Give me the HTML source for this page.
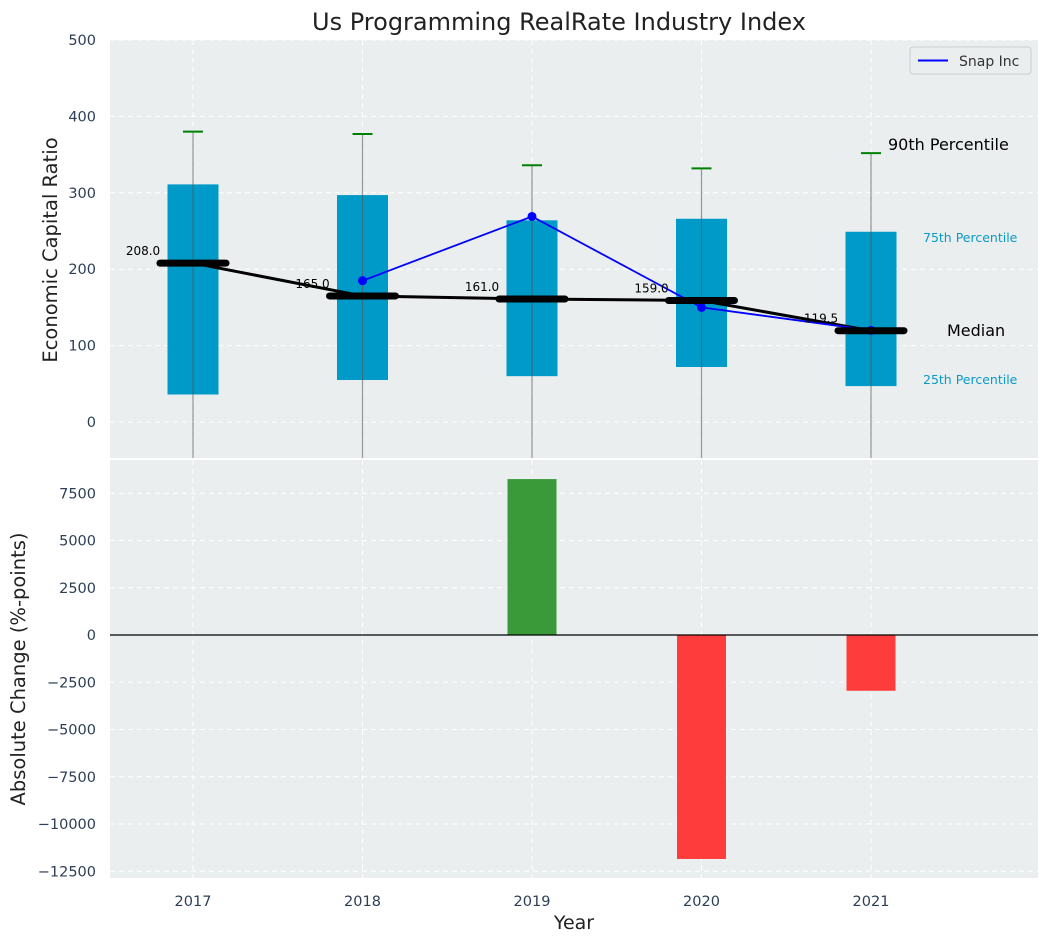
<!DOCTYPE html>
<html><head><meta charset="utf-8"><style>
html,body{margin:0;padding:0;background:#fff;}
svg{display:block;font-family:"DejaVu Sans","Liberation Sans",sans-serif;}
</style></head><body>
<svg id="chart" width="1048" height="942" viewBox="0 0 1048 942" xmlns="http://www.w3.org/2000/svg"></svg>
<script>
const years = ["2017","2018","2019","2020","2021"];
const p25 = [36, 55, 60, 72, 47];
const p75 = [311, 297, 264, 266, 249];
const p90 = [380, 377, 336, 332, 352];
const p10 = [-60, -60, -60, -60, -60];
const medians = [208.0, 165.0, 161.0, 159.0, 119.5];
const snapYears = [1, 2, 3, 4];
const snapValues = [185, 269, 150, 120];
const changes = [0, 0, 8250, -11850, -2950];
const topTicks = [0, 100, 200, 300, 400, 500];
const botTicks = [7500, 5000, 2500, 0, -2500, -5000, -7500, -10000, -12500];

const NS = "http://www.w3.org/2000/svg";
const svg = document.getElementById("chart");
function el(tag, attrs, parent) {
  const e = document.createElementNS(NS, tag);
  for (const k in attrs) e.setAttribute(k, attrs[k]);
  (parent || svg).appendChild(e);
  return e;
}
const L = 110, R = 1038;
const x = i => 193 + i * 169.5;
const yT = v => 422 - 0.764 * v;
const T0 = 40, T1 = 458;
const yB = v => 635 - 0.0189 * v;
const B0 = 460, B1 = 878;
const tickColor = "#2d3e55";
const TFS = 14.5;

let t = el("text", {x: 559, y: 30, "text-anchor": "middle", "font-size": 24, fill: "#222"});


t.textContent = "Us Programming RealRate Industry Index";

let bg = el("rect", {x: L, y: T0, width: R - L, height: T1 - T0, fill: "#eaeeef"});


let bg2 = el("rect", {x: L, y: B0, width: R - L, height: B1 - B0, fill: "#eaeeef"});



topTicks.forEach(v => {
  const g = el("line", {x1: L, x2: R, y1: yT(v), y2: yT(v), stroke: "#fff", "stroke-dasharray": "5,4", "stroke-width": 1});
  
  
  const tx = el("text", {x: 96, y: yT(v) + 5, "text-anchor": "end", "font-size": TFS, fill: tickColor});
  
  
  tx.textContent = v;
});
botTicks.forEach(v => {
  const g = el("line", {x1: L, x2: R, y1: yB(v), y2: yB(v), stroke: "#fff", "stroke-dasharray": "5,4", "stroke-width": 1});
  
  
  const tx = el("text", {x: 96, y: yB(v) + 5, "text-anchor": "end", "font-size": TFS, fill: tickColor});
  
  
  tx.textContent = v < 0 ? "\u2212" + (-v) : v;
});
years.forEach((yr, i) => {
  const g1 = el("line", {x1: x(i), x2: x(i), y1: T0, y2: T1, stroke: "#fff", "stroke-dasharray": "5,4"});
  
  
  const g2 = el("line", {x1: x(i), x2: x(i), y1: B0, y2: B1, stroke: "#fff", "stroke-dasharray": "5,4"});
  
  
  const tx = el("text", {x: x(i), y: 906, "text-anchor": "middle", "font-size": TFS, fill: tickColor});
  
  
  tx.textContent = yr;
});

const defs = el("defs", {});
const cp = el("clipPath", {id: "ctop"}, defs);
el("rect", {x: L, y: T0, width: R - L, height: T1 - T0}, cp);
const gt = el("g", {"clip-path": "url(#ctop)"});



years.forEach((yr, i) => {
  const b = el("rect", {x: x(i) - 25.5, y: yT(p75[i]), width: 51, height: yT(p25[i]) - yT(p75[i]), fill: "#009ac9"}, gt);
  
  
  const w = el("line", {x1: x(i), x2: x(i), y1: yT(p90[i]), y2: yT(p10[i]), stroke: "#555", "stroke-opacity": 0.6, "stroke-width": 1.2}, gt);
  
  
  const c = el("line", {x1: x(i) - 10, x2: x(i) + 10, y1: yT(p90[i]), y2: yT(p90[i]), stroke: "#008000", "stroke-width": 2}, gt);
  
  
});
let mp = medians.map((m, i) => x(i) + "," + yT(m)).join(" ");
let ml = el("polyline", {points: mp, fill: "none", stroke: "#000", "stroke-width": 3}, gt);


let sp = snapYears.map((yi, k) => x(yi) + "," + yT(snapValues[k])).join(" ");
let sl = el("polyline", {points: sp, fill: "none", stroke: "#0000ff", "stroke-width": 1.8}, gt);


snapYears.forEach((yi, k) => {
  const c = el("circle", {cx: x(yi), cy: yT(snapValues[k]), r: 4.5, fill: "#0000ff"}, gt);
  
  
});
medians.forEach((m, i) => {
  const l = el("line", {x1: x(i) - 33, x2: x(i) + 33, y1: yT(m), y2: yT(m), stroke: "#000", "stroke-width": 7, "stroke-linecap": "round"}, gt);
  
  
  const tx = el("text", {x: x(i) - 50, y: yT(m) - 8, "text-anchor": "middle", "font-size": 12, fill: "#000"}, gt);
  
  
  tx.textContent = m.toFixed(1);
});
const ann = [["90th Percentile", 888, 150, 16, "#000", "start", "p90-annotation"],
  ["75th Percentile", 923, 242, 12.5, "#0a9ac9", "start", "p75-annotation"],
  ["Median", 947, 336, 16, "#000", "start", "median-annotation"],
  ["25th Percentile", 923, 384, 12.5, "#0a9ac9", "start", "p25-annotation"]];
ann.forEach(a => {
  const tx = el("text", {x: a[1], y: a[2], "font-size": a[3], fill: a[4], "text-anchor": a[5]});
  
  
  tx.textContent = a[0];
});
const lg = el("g", {});


el("rect", {x: 910, y: 47, width: 121, height: 27, rx: 3, fill: "#eaeeef", stroke: "#ccc"}, lg);
el("line", {x1: 918, x2: 948, y1: 60.5, y2: 60.5, stroke: "#0000ff", "stroke-width": 2}, lg);
const lt = el("text", {x: 959, y: 66, "font-size": 14, fill: "#333"}, lg);


lt.textContent = "Snap Inc";

changes.forEach((v, i) => {
  if (v === 0) return;
  const y0 = Math.min(yB(v), yB(0)), h = Math.abs(yB(v) - yB(0));
  const b = el("rect", {x: x(i) - 24.5, y: y0, width: 49, height: h, fill: v > 0 ? "#3a9a3a" : "#ff3c3c"});
  
  
});
let zl = el("line", {x1: L, x2: R, y1: yB(0), y2: yB(0), stroke: "#000", "stroke-width": 1.3});



let a1 = el("text", {x: 0, y: 0, "font-size": 19.5, fill: "#222", "text-anchor": "middle", transform: "translate(57,250) rotate(-90)"});


a1.textContent = "Economic Capital Ratio";
let a2 = el("text", {x: 0, y: 0, "font-size": 19.5, fill: "#222", "text-anchor": "middle", transform: "translate(25,669) rotate(-90)"});


a2.textContent = "Absolute Change (%-points)";
let a3 = el("text", {x: 574, y: 929, "font-size": 19, fill: "#222", "text-anchor": "middle"});


a3.textContent = "Year";
</script>
</body></html>
